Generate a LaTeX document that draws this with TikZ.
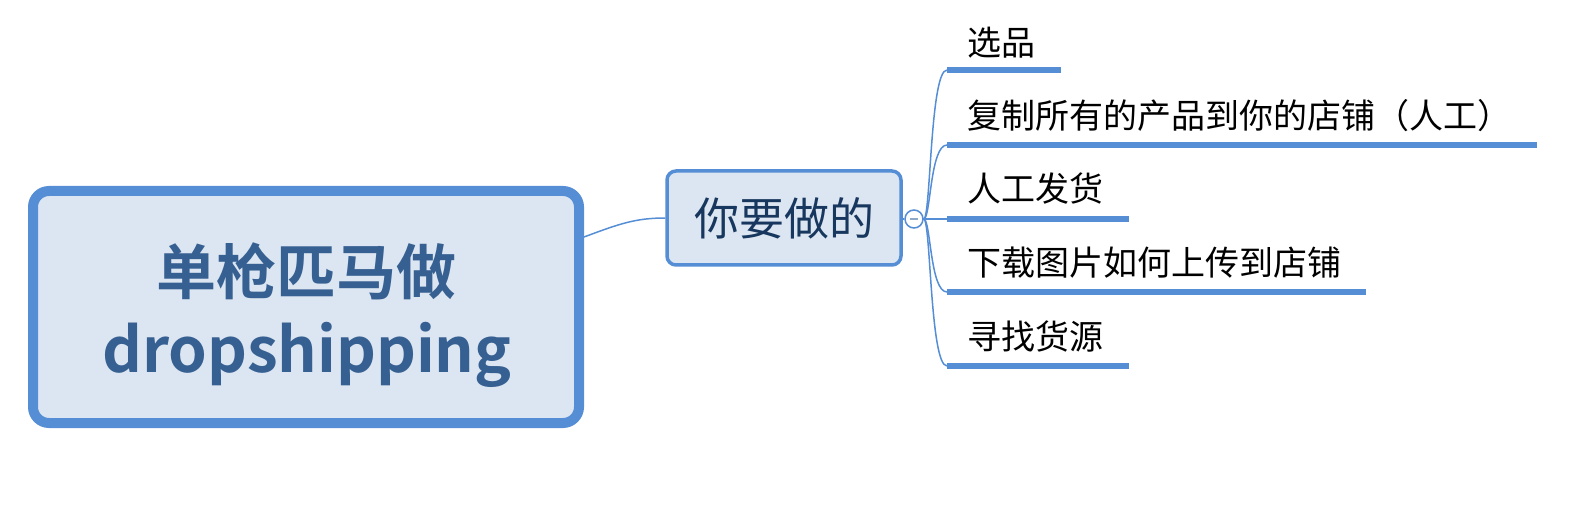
\documentclass[tikz,border=0pt]{standalone}
\usepackage{fontspec}
\setmainfont{Noto Sans CJK SC}[BoldFont={Noto Sans CJK SC Bold}]
\definecolor{lineblue}{HTML}{558ED5}
\definecolor{fillblue}{HTML}{DCE6F2}
\definecolor{roottext}{HTML}{376092}
\definecolor{midtext}{HTML}{17375E}
\definecolor{minusgray}{HTML}{8EA9C8}
\begin{document}
\begin{tikzpicture}[x=1pt,y=-1pt,
  rootbox/.style={draw=lineblue,fill=fillblue,line width=10pt,rounded corners=16pt,minimum width=546pt,minimum height=232pt,inner sep=0pt},
  roottxt/.style={text=roottext,inner sep=0pt},
  midbox/.style={draw=lineblue,fill=fillblue,line width=3.5pt,rounded corners=9pt,minimum width=234pt,minimum height=94pt,inner sep=0pt,font=\fontsize{45}{50}\selectfont,text=midtext},
  leaf/.style={anchor=base west,inner sep=0pt,font=\fontsize{34}{40}\selectfont},
  uline/.style={draw=lineblue,line width=5.5pt},
  conn/.style={draw=lineblue,line width=1.5pt},
  toggle/.style={circle,draw=lineblue,line width=1.5pt,fill=white,minimum size=18pt,inner sep=0pt},
]
\useasboundingbox (0,0) rectangle (1596,529);
% root
\node[rootbox] (root) at (306,307) {};
\node[roottxt,font=\bfseries\fontsize{60}{68}\selectfont] (t1) at (306,271) {单枪匹马做};
\node[roottxt,font=\bfseries\fontsize{62}{70}\selectfont,anchor=base] (t2) at (307,373) {dropshipping};
% middle
\node[midbox] (mid) at (784,218) {\raisebox{-3.5pt}{你要做的}};
\draw[conn] ([yshift=70pt]root.east) .. controls +(35,-13) and +(-30,0) .. (mid.west);
% toggle
\node[toggle] (tog) at (914,219) {};
\draw[conn] (mid.east |- tog.west) -- (tog.west);
\draw[draw=minusgray,line width=1.5pt] ([xshift=-4pt]tog.center) -- ([xshift=4pt]tog.center);
% leaves
\coordinate (u1s) at (947,70);  \coordinate (u1e) at (1061,70);
\coordinate (u2s) at (947,145); \coordinate (u2e) at (1537,145);
\coordinate (u3s) at (947,219); \coordinate (u3e) at (1129,219);
\coordinate (u4s) at (947,292); \coordinate (u4e) at (1366,292);
\coordinate (u5s) at (947,366); \coordinate (u5e) at (1129,366);
\node[leaf] (l1) at (967,56) {选品};
\node[leaf] (l2) at (967,129) {复制所有的产品到你的店铺（人工）};
\node[leaf] (l3) at (967,202) {人工发货};
\node[leaf] (l4) at (967,276) {下载图片如何上传到店铺};
\node[leaf] (l5) at (967,349) {寻找货源};
\foreach \i in {1,2,3,4,5} {\draw[uline] (u\i s) -- (u\i e);}
\foreach \i in {1,2,4,5} {\draw[conn] (tog.east) .. controls +(7,0) and +(-17,0) .. (u\i s);}
\draw[conn] (tog.east) -- (u3s);
\end{tikzpicture}
\end{document}
